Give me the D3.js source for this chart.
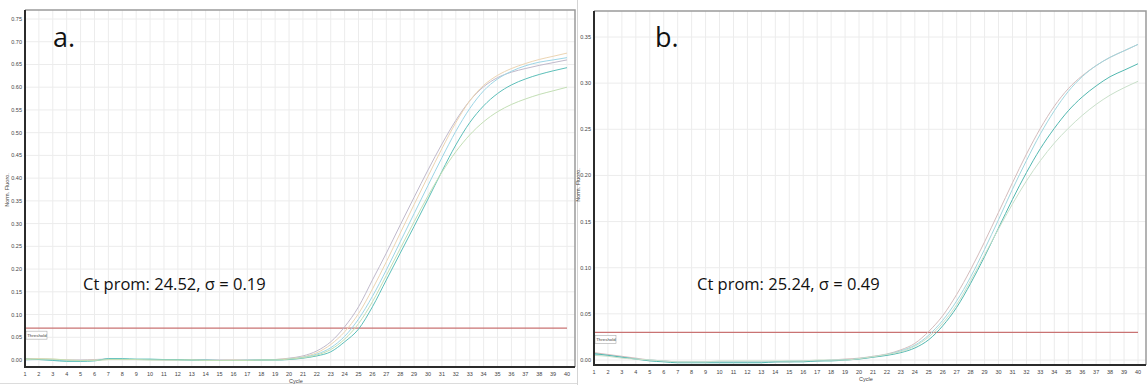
<!DOCTYPE html>
<html>
<head>
<meta charset="utf-8">
<script src="https://cdn.jsdelivr.net/npm/d3@7"></script>
<style>
  body { margin: 0; background: #fff; }
  svg { display: block; }
  .tick-label { font-family: "Liberation Sans", Arial, sans-serif; font-size: 5.5px; fill: #444; }
  .panel-tag { font-family: "Open Sans", sans-serif; fill: #111; }
  .ct-text { font-family: "Open Sans", sans-serif; font-size: 16.5px; fill: #111; }
</style>
</head>
<body>
<div id="chart"></div>
<script>
///////////////////////////////////////////////////////////////////////////
//////////////////////////////// Data /////////////////////////////////////
///////////////////////////////////////////////////////////////////////////

var cycles = d3.range(1, 41);

var ticksA = [0, 0.05, 0.10, 0.15, 0.20, 0.25, 0.30, 0.35, 0.40, 0.45, 0.50, 0.55, 0.60, 0.65, 0.70, 0.75];
var ticksB = [0, 0.05, 0.10, 0.15, 0.20, 0.25, 0.30, 0.35];

var thresholdA = 0.07,
    thresholdB = 0.03;

var ctTextA = "Ct prom: 24.52, \u03c3 = 0.19",
    ctTextB = "Ct prom: 25.24, \u03c3 = 0.49";

//panel a. curves (norm. fluoro. at cycles 1..40)
var aGray   = [0.001,0.002,0.001,0.000,0.000,0.001,0.002,0.001,0.001,0.001,0.000,0.000,0.000,0.000,0.000,0.000,0.000,0.000,0.001,
               0.004,0.009,0.020,0.040,0.073,0.117,0.176,0.235,0.297,0.358,0.418,0.475,0.527,0.570,0.601,0.621,0.633,0.641,0.648,0.654,0.660];
var aOrange = [0.003,0.003,0.002,0.000,-0.001,0.000,0.001,0.001,0.001,0.001,0.001,0.000,0.000,-0.001,-0.001,0.000,0.000,0.000,0.001,
               0.003,0.007,0.016,0.034,0.062,0.102,0.156,0.216,0.279,0.342,0.404,0.465,0.522,0.570,0.604,0.626,0.641,0.652,0.661,0.668,0.675];
var aBlue   = [0.000,0.001,0.000,-0.002,-0.002,-0.001,0.002,0.002,0.001,0.001,0.001,0.000,-0.001,-0.001,-0.001,-0.001,0.000,0.000,0.000,
               0.002,0.006,0.013,0.027,0.052,0.090,0.140,0.198,0.260,0.322,0.384,0.445,0.503,0.553,0.592,0.618,0.635,0.647,0.655,0.660,0.665];
var aTeal   = [0.002,0.001,-0.001,-0.003,-0.003,-0.002,0.003,0.003,0.002,0.002,0.001,0.001,0.000,0.000,-0.001,-0.001,-0.001,0.000,0.000,
               0.001,0.004,0.009,0.018,0.040,0.068,0.117,0.176,0.235,0.294,0.354,0.415,0.473,0.522,0.559,0.586,0.605,0.618,0.628,0.636,0.643];
var aGreen  = [0.001,0.002,0.002,0.000,-0.001,-0.001,0.001,0.001,0.001,0.000,0.000,0.000,0.000,-0.001,-0.001,-0.001,-0.001,0.000,0.000,
               0.002,0.005,0.011,0.023,0.046,0.080,0.128,0.186,0.245,0.304,0.361,0.413,0.458,0.495,0.524,0.546,0.562,0.574,0.584,0.592,0.600];

//panel b. curves
var bPink  = [0.008,0.006,0.004,0.002,0.000,-0.001,-0.002,-0.002,-0.002,-0.002,-0.002,-0.002,-0.002,-0.002,-0.002,-0.001,-0.001,0.000,0.001,
              0.002,0.004,0.0065,0.011,0.018,0.031,0.048,0.071,0.098,0.128,0.160,0.192,0.223,0.251,0.275,0.294,0.308,0.319,0.328,0.335,0.342];
var bBlue  = [0.006,0.005,0.003,0.001,0.000,-0.001,-0.002,-0.002,-0.002,-0.002,-0.002,-0.002,-0.002,-0.002,-0.001,-0.001,-0.001,0.000,0.000,
              0.0015,0.0035,0.006,0.010,0.016,0.027,0.043,0.064,0.090,0.120,0.152,0.185,0.216,0.245,0.270,0.291,0.307,0.319,0.328,0.335,0.342];
var bTeal  = [0.007,0.005,0.003,0.001,-0.001,-0.002,-0.003,-0.003,-0.003,-0.003,-0.003,-0.003,-0.003,-0.002,-0.002,-0.002,-0.001,-0.001,0.000,
              0.001,0.003,0.005,0.008,0.013,0.022,0.037,0.057,0.083,0.112,0.143,0.174,0.203,0.229,0.251,0.270,0.285,0.297,0.307,0.314,0.321];
var bGreen = [0.005,0.004,0.002,0.001,0.000,-0.001,-0.002,-0.002,-0.002,-0.001,-0.001,-0.001,-0.001,-0.001,-0.001,-0.001,0.000,0.000,0.000,
              0.0015,0.0035,0.006,0.009,0.015,0.025,0.040,0.060,0.086,0.114,0.142,0.169,0.194,0.216,0.235,0.251,0.265,0.277,0.287,0.295,0.302];

var coloursA = ["#c0b9cb", "#ecd5b3", "#9dd6e6", "#5cbfb9", "#c3dfb5"];
var coloursB = ["#d4bcbc", "#a0d7df", "#52b8b0", "#c9e0ca"];

///////////////////////////////////////////////////////////////////////////
//////////////////// Set up and initiate svg container ////////////////////
///////////////////////////////////////////////////////////////////////////

var width = 1147,
    height = 385;

var svg = d3.select("#chart")
    .append("svg")
    .attr("width", width)
    .attr("height", height);

//separator between the two screenshots
svg.append("line")
    .attr("x1", 577.5).attr("x2", 577.5)
    .attr("y1", 0).attr("y2", height)
    .style("stroke", "#d4d4d4");
svg.append("line")
    .attr("x1", 0).attr("x2", 577)
    .attr("y1", 383.5).attr("y2", 383.5)
    .style("stroke", "#dcdcdc");

var fmt = d3.format(".2f");

///////////////////////////////////////////////////////////////////////////
//////////////////////////// Draw one panel ///////////////////////////////
///////////////////////////////////////////////////////////////////////////

function drawPanel(p) {
    var g = svg.append("g");

    var x = d3.scaleLinear().domain([1, 40]).range([p.x0, p.x1]);
    var y = d3.scaleLinear().domain([0, p.yMax]).range([p.y0, p.y1]);

    //grid
    g.selectAll(".vgrid")
        .data(cycles)
        .enter().append("line")
        .attr("x1", function(d) { return x(d); })
        .attr("x2", function(d) { return x(d); })
        .attr("y1", p.top).attr("y2", p.bottom)
        .style("stroke", "#ececec")
        .style("stroke-width", 1);

    g.selectAll(".hgrid")
        .data(p.ticks)
        .enter().append("line")
        .attr("x1", p.x0).attr("x2", p.frameRight)
        .attr("y1", function(d) { return y(d); })
        .attr("y2", function(d) { return y(d); })
        .style("stroke", "#ececec")
        .style("stroke-width", 1);

    //top and right frame
    g.append("path")
        .attr("d", "M" + p.x0 + "," + p.top + "H" + p.frameRight + "V" + p.bottom)
        .style("fill", "none")
        .style("stroke", "#9a9a9a")
        .style("stroke-width", 1.5);

    //threshold
    g.append("line")
        .attr("x1", p.x0).attr("x2", p.x1)
        .attr("y1", y(p.threshold)).attr("y2", y(p.threshold))
        .style("stroke", "#c97373")
        .style("stroke-width", 1.3);

    var tb = g.append("g")
        .attr("transform", "translate(" + (p.x0 + 1) + "," + (y(p.threshold) + 3) + ")");
    tb.append("rect")
        .attr("width", 21).attr("height", 8)
        .style("fill", "#fff")
        .style("stroke", "#aaa")
        .style("stroke-width", 0.6);
    tb.append("text")
        .attr("class", "tick-label")
        .attr("x", 1.2).attr("y", 5.8)
        .style("font-size", "4.4px")
        .text("Threshold");

    //curves
    var line = d3.line()
        .x(function(d, i) { return x(cycles[i]); })
        .y(function(d) { return y(d); })
        .curve(d3.curveMonotoneX);

    g.selectAll(".curve")
        .data(p.series)
        .enter().append("path")
        .attr("d", function(d) { return line(d); })
        .style("fill", "none")
        .style("stroke", function(d, i) { return p.colours[i]; })
        .style("stroke-width", 1);

    //axes (dark left and bottom)
    g.append("path")
        .attr("d", "M" + p.x0 + "," + p.top + "V" + p.bottom + "H" + p.frameRight)
        .style("fill", "none")
        .style("stroke", "#2b2b2b")
        .style("stroke-width", 2);

    //y tick labels
    g.selectAll(".ylab")
        .data(p.ticks)
        .enter().append("text")
        .attr("class", "tick-label")
        .attr("x", p.x0 - 3)
        .attr("y", function(d) { return y(d) + 2; })
        .style("text-anchor", "end")
        .text(function(d) { return fmt(d); });

    //x tick labels
    g.selectAll(".xlab")
        .data(cycles)
        .enter().append("text")
        .attr("class", "tick-label")
        .attr("x", function(d) { return x(d); })
        .attr("y", p.bottom + 9)
        .style("text-anchor", "middle")
        .text(function(d) { return d; });

    g.append("text")
        .attr("class", "tick-label")
        .attr("x", (p.x0 + p.x1) / 2)
        .attr("y", p.bottom + 16)
        .style("text-anchor", "middle")
        .text("Cycle");

    g.append("text")
        .attr("class", "tick-label")
        .attr("transform", "translate(" + p.yTitleX + "," + p.yTitleY + ") rotate(-90)")
        .style("text-anchor", "middle")
        .text("Norm. Fluoro.");

    //panel letter and Ct text
    g.append("text")
        .attr("class", "panel-tag")
        .attr("x", p.tagX).attr("y", 47)
        .style("font-size", "27px")
        .text(p.tag);

    g.append("text")
        .attr("class", "ct-text")
        .attr("x", p.ctX).attr("y", 290)
        .text(p.ct);
}

drawPanel({
    x0: 25, x1: 567, frameRight: 575, top: 10, bottom: 367,
    y0: 360, y1: 19, yMax: 0.75,
    ticks: ticksA, threshold: thresholdA,
    series: [aGray, aOrange, aBlue, aTeal, aGreen], colours: coloursA,
    yTitleX: 9, yTitleY: 190,
    tag: "a.", tagX: 53, ct: ctTextA, ctX: 83
});

drawPanel({
    x0: 594, x1: 1138, frameRight: 1146, top: 11, bottom: 365,
    y0: 360, y1: 37, yMax: 0.35,
    ticks: ticksB, threshold: thresholdB,
    series: [bPink, bBlue, bTeal, bGreen], colours: coloursB,
    yTitleX: 580, yTitleY: 185,
    tag: "b.", tagX: 655, ct: ctTextB, ctX: 697
});
</script>
</body>
</html>
